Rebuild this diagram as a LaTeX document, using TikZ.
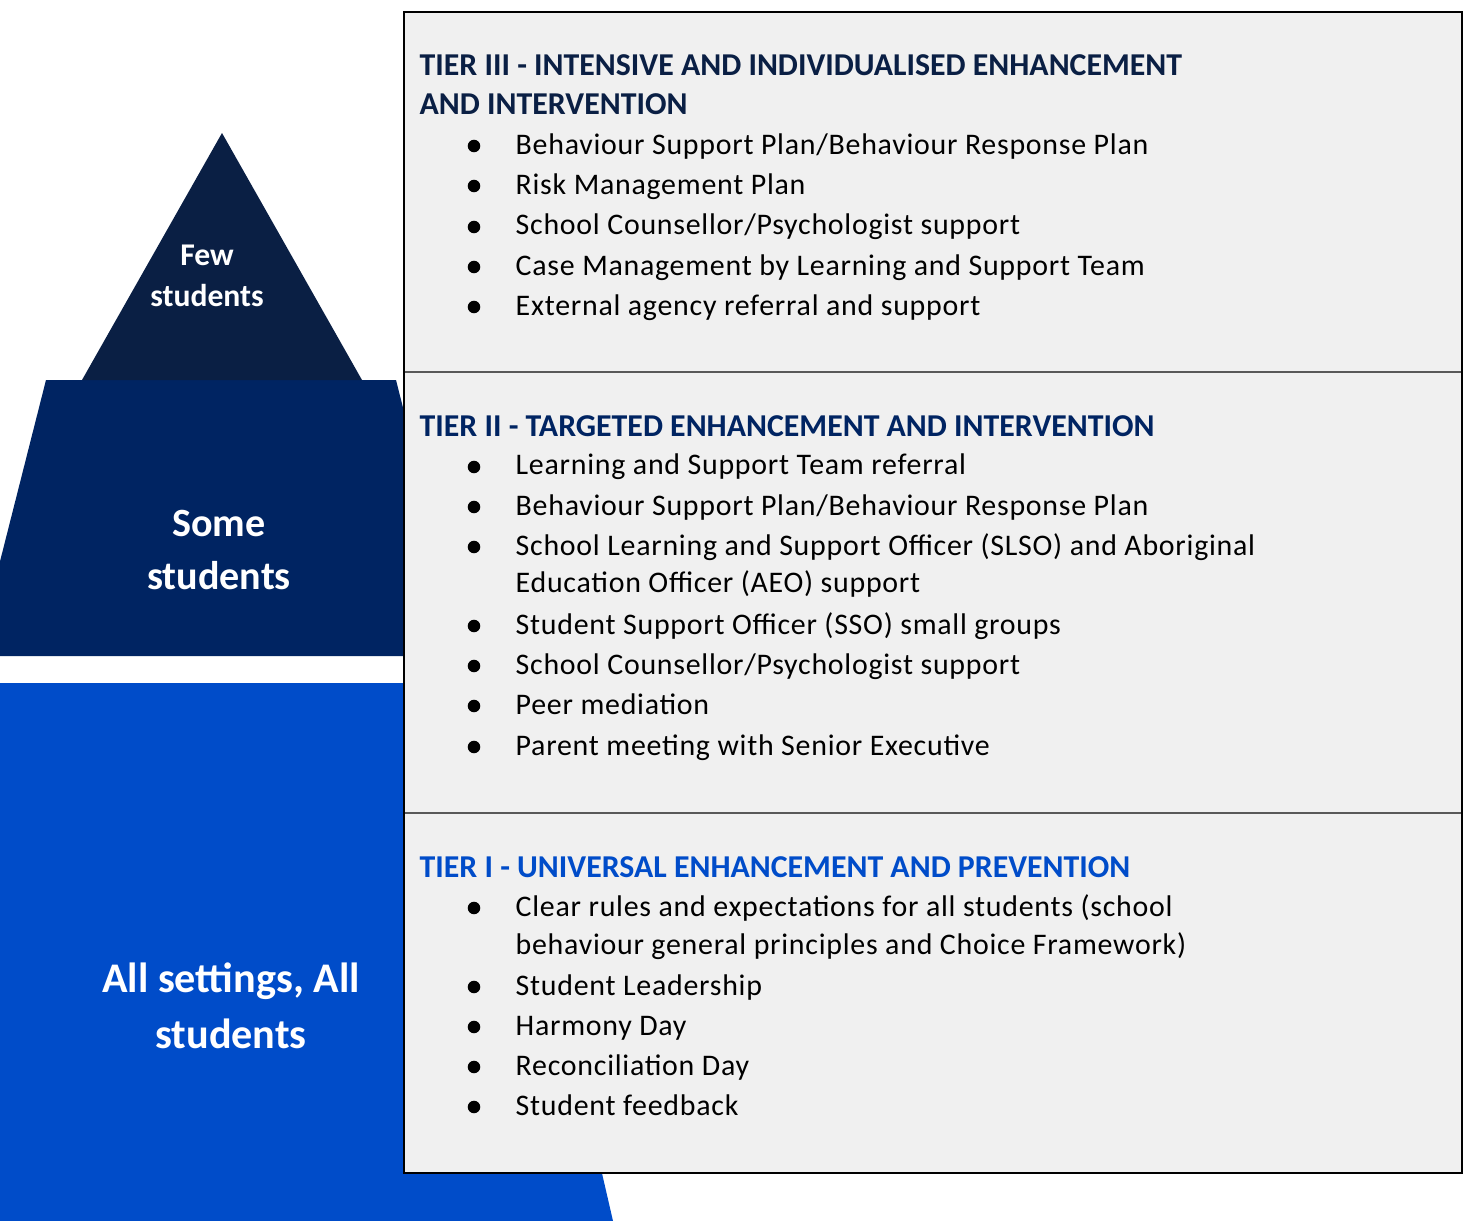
\documentclass[tikz,border=0pt]{standalone}
\usepackage{fontspec}
\setmainfont{Carlito}
\newfontfamily\itemfont[LetterSpace=2.5]{Carlito}
\definecolor{fewNavy}{HTML}{0A1F44}
\definecolor{someNavy}{HTML}{002462}
\definecolor{allBlue}{HTML}{004CC9}
\definecolor{boxGrey}{HTML}{F0F0F0}
\definecolor{ruleGrey}{HTML}{595959}
\tikzset{
  tierbox/.style={fill=boxGrey, draw=ruleGrey, line width=0.6pt},
  tierhead/.style={anchor=base west, inner sep=0pt, font=\fontsize{9.05}{11}\selectfont\bfseries},
  item/.style={anchor=base west, inner sep=0pt, font=\itemfont\fontsize{8.5}{11}\selectfont},
  bulletdot/.style={circle, fill=black, inner sep=0pt, minimum size=0.125cm},
  level/.style={text=white, align=center, inner sep=0pt, anchor=base}
}
\begin{document}
\begin{tikzpicture}[x=0.01cm, y=-0.01cm]
\useasboundingbox (0,0) rectangle (1465,1221);
\clip (0,0) rectangle (1465,1221);

% pyramid, bottom level first
\fill[allBlue] (-10,683) -- (489,683) -- (613,1221) -- (-10,1221) -- cycle;
\fill[someNavy] (46,380) -- (396,380) -- (466,656) -- (-24,656) -- cycle;
\fill[fewNavy] (222,133) -- (362,380) -- (82,380) -- cycle;

% base anchor sits on the last line
\node[level, font=\fontsize{9}{11.9}\selectfont\bfseries] (few) at (207,307) {Few\\students};
\node[level, font=\fontsize{11.4}{14.8}\selectfont\bfseries] (some) at (219,589) {Some\\students};
\node[level, font=\fontsize{12}{15.9}\selectfont\bfseries] (all) at (231,1048) {All settings, All\\students};

% tier boxes
\draw[tierbox] (404,12) rectangle (1462,372);
\draw[tierbox] (404,372) rectangle (1462,813);
\draw[tierbox] (404,813) rectangle (1462,1173);
\draw[black, line width=0.5pt] (404,12) rectangle (1462,1173);

% tier III
\node[tierhead, text=fewNavy] (t3head) at (419,76) {TIER III - INTENSIVE AND INDIVIDUALISED ENHANCEMENT};
\node[tierhead, text=fewNavy] (t3head2) at (419,114) {AND INTERVENTION};
\foreach \y/\t [count=\i] in {154/{Behaviour Support Plan/Behaviour Response Plan},
    194/Risk Management Plan,
    235/{School Counsellor/Psychologist support},
    275/Case Management by Learning and Support Team,
    315/External agency referral and support}{
  \node[bulletdot] (t3dot\i) at (474,\y-8) {};
  \node[item] (t3item\i) at (515,\y) {\t};
}

% tier II
\node[tierhead, text=someNavy] (t2head) at (419,436) {TIER II - TARGETED ENHANCEMENT AND INTERVENTION};
\foreach \y/\t [count=\i] in {475/Learning and Support Team referral,
    515/{Behaviour Support Plan/Behaviour Response Plan},
    555/School Learning and Support Officer (SLSO) and Aboriginal,
    634/Student Support Officer (SSO) small groups,
    674/{School Counsellor/Psychologist support},
    714/Peer mediation,
    755/Parent meeting with Senior Executive}{
  \node[bulletdot] (t2dot\i) at (474,\y-8) {};
  \node[item] (t2item\i) at (515,\y) {\t};
}
\node[item] (t2wrap) at (515,593) {Education Officer (AEO) support};

% tier I
\node[tierhead, text=allBlue] (t1head) at (419,877) {TIER I - UNIVERSAL ENHANCEMENT AND PREVENTION};
\foreach \y/\t [count=\i] in {916/Clear rules and expectations for all students (school,
    995/Student Leadership,
    1035/Harmony Day,
    1075/Reconciliation Day,
    1115/Student feedback}{
  \node[bulletdot] (t1dot\i) at (474,\y-8) {};
  \node[item] (t1item\i) at (515,\y) {\t};
}
\node[item] (t1wrap) at (515,954) {behaviour general principles and Choice Framework)};
\end{tikzpicture}
\end{document}
